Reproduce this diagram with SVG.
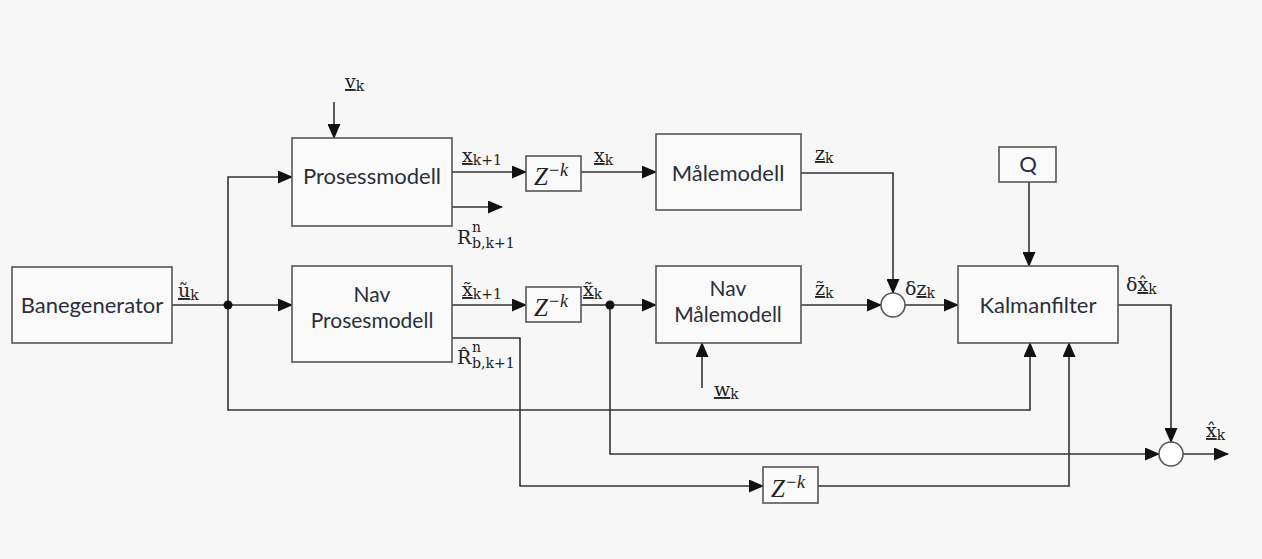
<svg xmlns="http://www.w3.org/2000/svg" width="1262" height="559" viewBox="0 0 1262 559">
<defs>
<marker id="arr" markerUnits="userSpaceOnUse" markerWidth="15" markerHeight="13" refX="14" refY="6.5" orient="auto">
<path d="M0,0 L15,6.5 L0,13 Z" fill="#111"/>
</marker>
<style>
.box{fill:#fafafa;stroke:#555;stroke-width:1.6}
.ln{fill:none;stroke:#333;stroke-width:1.6}
.ar{fill:none;stroke:#333;stroke-width:1.6;marker-end:url(#arr)}
.t{font-family:Lato,"Open Sans",sans-serif;font-size:22px;fill:#2a2f3a;text-anchor:middle}
.t2{font-size:21px}
.m{font-family:"DejaVu Serif","Liberation Serif",serif;font-size:19px;fill:#222}
.s{font-size:14px}
.z{font-family:"Liberation Serif",serif;font-style:italic;font-size:25px;fill:#222}
.zs{font-size:18px}
.u{text-decoration:underline}
</style>
</defs>
<rect width="1262" height="559" fill="#f7f7f7"/>

<g id="connectors">
<polyline class="ln" points="172,305 228,305"/>
<polyline class="ar" points="228,305 292,305"/>
<polyline class="ar" points="228,305 228,177 292,177"/>
<polyline class="ar" points="228,305 228,410 1030,410 1030,343"/>
<circle cx="228" cy="305" r="4.5" fill="#111"/>
<polyline class="ar" points="334,102 334,138"/>
<polyline class="ar" points="452,172 526,172"/>
<polyline class="ar" points="452,207 502,207"/>
<polyline class="ar" points="581,172 656,172"/>
<polyline class="ar" points="801,173 893,173 893,293"/>
<polyline class="ar" points="452,305 526,305"/>
<polyline class="ar" points="452,338 520,338 520,486 763,486"/>
<polyline class="ln" points="581,305 610,305"/>
<polyline class="ar" points="610,305 656,305"/>
<polyline class="ar" points="610,305 610,454 1159,454"/>
<circle cx="610" cy="305" r="4.5" fill="#111"/>
<polyline class="ar" points="702,388 702,343"/>
<polyline class="ar" points="801,305 881,305"/>
<polyline class="ar" points="905,305 958,305"/>
<polyline class="ar" points="1029,182 1029,266"/>
<polyline class="ar" points="818,486 1069,486 1069,343"/>
<polyline class="ar" points="1118,305 1171,305 1171,442"/>
<polyline class="ar" points="1183,454 1228,454"/>
</g>

<g id="banegenerator">
<rect class="box" x="12" y="267" width="160" height="76"/>
<text class="t" x="92" y="313">Banegenerator</text>
</g>
<g id="prosessmodell">
<rect class="box" x="292" y="138" width="160" height="88"/>
<text class="t" x="372" y="184">Prosessmodell</text>
</g>
<g id="nav-prosesmodell">
<rect class="box" x="292" y="266" width="160" height="96"/>
<text class="t t2" x="372" y="302">Nav<tspan x="372" dy="26">Prosesmodell</tspan></text>
</g>
<g id="delay1">
<rect class="box" x="526" y="156" width="55" height="35"/>
<text class="z" x="534" y="185">Z<tspan class="zs" dy="-9">−k</tspan></text>
</g>
<g id="delay2">
<rect class="box" x="526" y="287" width="55" height="35"/>
<text class="z" x="534" y="316">Z<tspan class="zs" dy="-9">−k</tspan></text>
</g>
<g id="delay3">
<rect class="box" x="763" y="467" width="55" height="36"/>
<text class="z" x="771" y="497">Z<tspan class="zs" dy="-9">−k</tspan></text>
</g>
<g id="malemodell">
<rect class="box" x="656" y="134" width="145" height="76"/>
<text class="t" x="728" y="181">Målemodell</text>
</g>
<g id="nav-malemodell">
<rect class="box" x="656" y="266" width="145" height="77"/>
<text class="t t2" x="728" y="296">Nav<tspan x="728" dy="26">Målemodell</tspan></text>
</g>
<g id="kalmanfilter">
<rect class="box" x="958" y="266" width="160" height="77"/>
<text class="t" x="1038" y="313">Kalmanfilter</text>
</g>
<g id="q">
<rect class="box" x="999" y="147" width="57" height="35"/>
<text class="t" x="1028" y="172" font-size="19">Q</text>
</g>
<g id="sum1">
<circle cx="893" cy="305" r="12" fill="#fff" stroke="#555" stroke-width="1.6"/>
</g>
<g id="sum2">
<circle cx="1171" cy="454" r="12" fill="#fff" stroke="#555" stroke-width="1.6"/>
</g>

<g id="labels">
<text class="m" x="345" y="88"><tspan class="u">v</tspan><tspan class="s" dy="3">k</tspan></text>
<text class="m" x="462" y="162"><tspan class="u">x</tspan><tspan class="s" dy="3">k+1</tspan></text>
<text class="m" x="594" y="162"><tspan class="u">x</tspan><tspan class="s" dy="3">k</tspan></text>
<text class="m" x="457" y="244">R</text>
<text class="m s" x="472" y="232">n</text>
<text class="m s" x="472" y="248">b,k+1</text>
<text class="m" x="462" y="296"><tspan class="u">x̃</tspan><tspan class="s" dy="3">k+1</tspan></text>
<text class="m" x="583" y="296"><tspan class="u">x̃</tspan><tspan class="s" dy="3">k</tspan></text>
<text class="m" x="457" y="364">R̂</text>
<text class="m s" x="472" y="352">n</text>
<text class="m s" x="472" y="368">b,k+1</text>
<text class="m" x="178" y="297"><tspan class="u">ũ</tspan><tspan class="s" dy="3">k</tspan></text>
<text class="m" x="815" y="160"><tspan class="u">z</tspan><tspan class="s" dy="3">k</tspan></text>
<text class="m" x="815" y="295"><tspan class="u">z̃</tspan><tspan class="s" dy="3">k</tspan></text>
<text class="m" x="905" y="295">δ<tspan class="u">z</tspan><tspan class="s" dy="3">k</tspan></text>
<text class="m" x="714" y="396"><tspan class="u">w</tspan><tspan class="s" dy="3">k</tspan></text>
<text class="m" x="1126" y="291">δ<tspan class="u">x̂</tspan><tspan class="s" dy="3">k</tspan></text>
<text class="m" x="1206" y="437"><tspan class="u">x̂</tspan><tspan class="s" dy="3">k</tspan></text>
</g>
</svg>
